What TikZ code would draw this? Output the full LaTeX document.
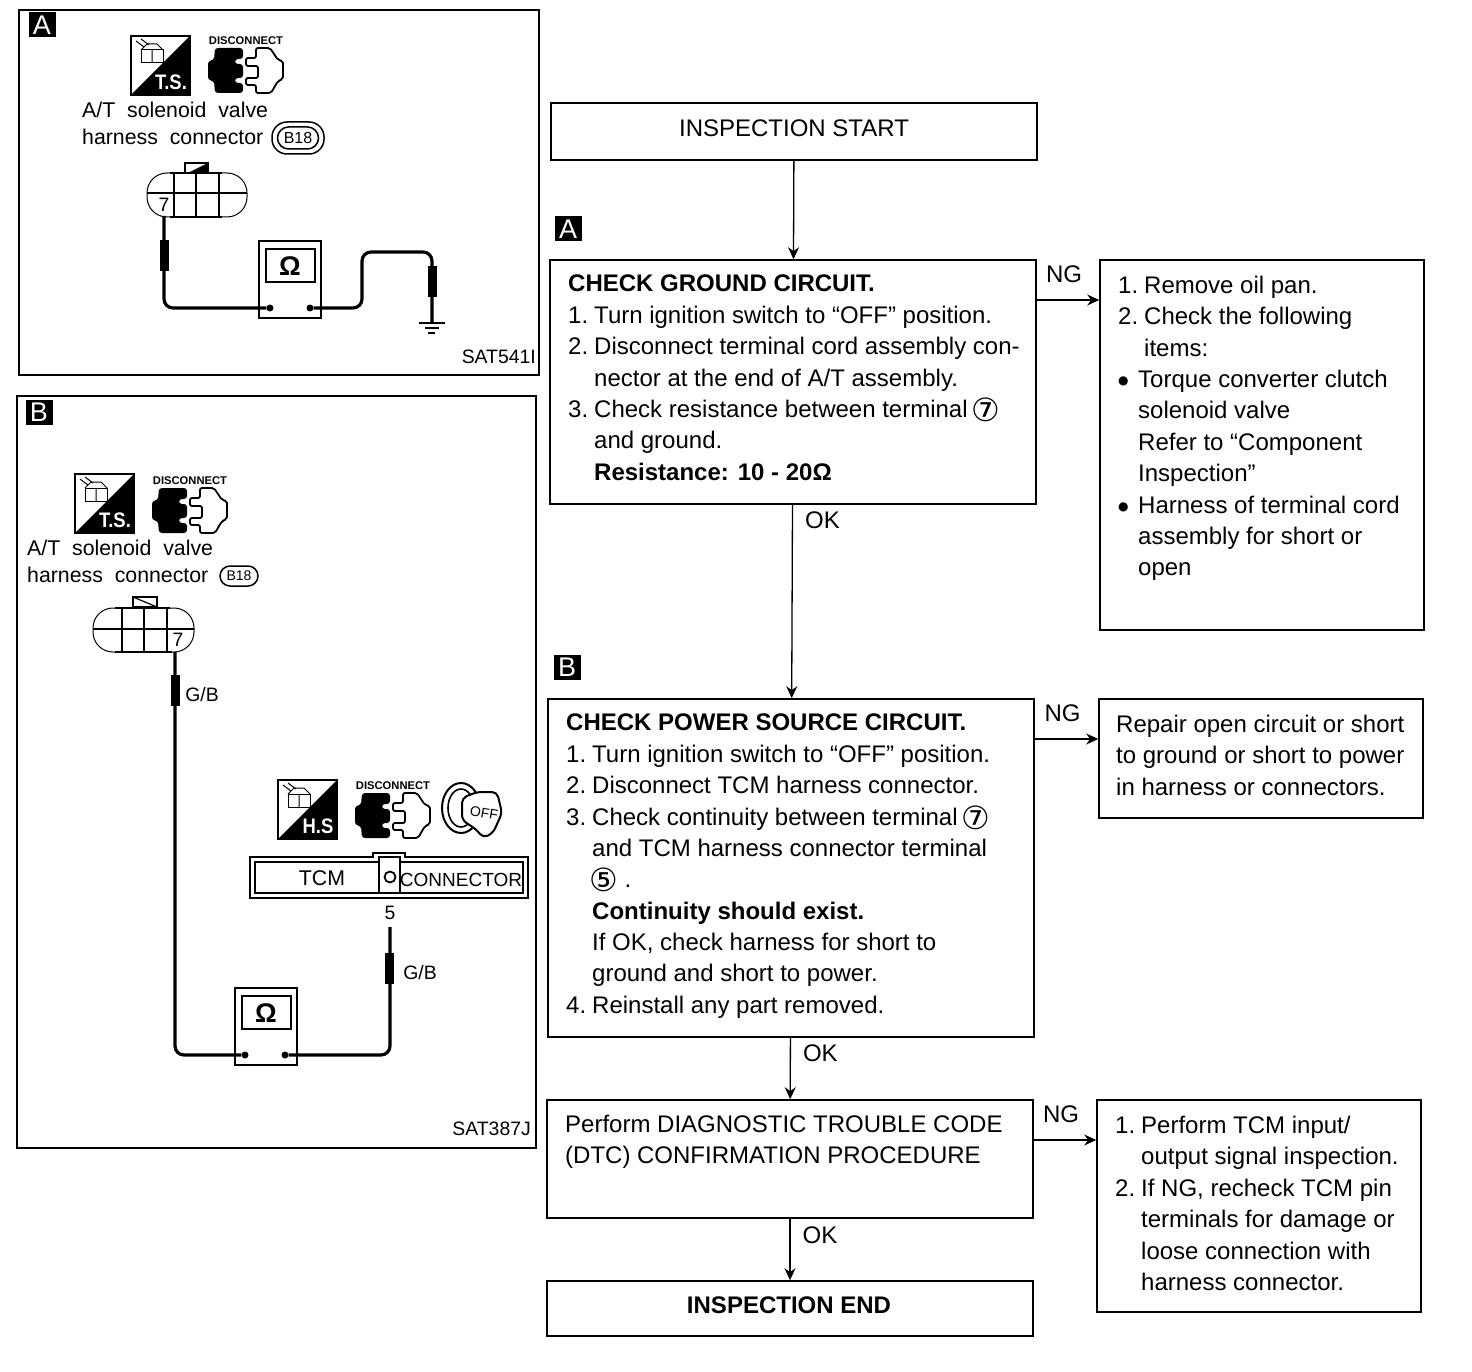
\documentclass[tikz,border=0pt]{standalone}
\usepackage{fontspec}
\setmainfont{Liberation Sans}
\newfontfamily\symfont{DejaVu Sans}
\usetikzlibrary{positioning, arrows.meta, shapes.geometric}
\tikzstyle{flowbox} = [rectangle, draw = black, line width=1.6pt, inner sep=0pt]
\tikzstyle{flowtxt} = [anchor=north west, align=left, inner sep=0pt, font=\fontsize{24}{31.35}\selectfont]
\tikzstyle{flowlab} = [inner sep=0pt, font=\fontsize{24}{27}\selectfont]
\tikzstyle{arrow} = [-{Stealth[length=12pt,width=11pt]}, line width=1.3pt]
\tikzstyle{panel} = [rectangle, draw = black, line width=2pt, inner sep=0pt]
\tikzstyle{tag} = [rectangle, fill = black, text = white, inner sep=0pt, minimum width=27pt, minimum height=25pt, font=\fontsize{27}{28}\selectfont]
\tikzstyle{wire} = [line width=3.2pt, rounded corners=9pt]
\tikzstyle{probe} = [rectangle, fill = black, inner sep=0pt, minimum width=9pt, minimum height=31pt]
\tikzstyle{smalltxt} = [inner sep=0pt, font=\fontsize{21.3}{24}\selectfont]
\tikzstyle{pintxt} = [inner sep=0pt, font=\fontsize{19.4}{20}\selectfont]
\tikzstyle{terminal} = [circle, fill = black, inner sep=0pt, minimum size=7pt]
\newcommand{\itm}[1]{\makebox[26pt][l]{#1}}
\newcommand{\btm}{\makebox[20pt][l]{\raisebox{3pt}{\symfont\fontsize{12}{12}\selectfont ●}}}
\newcommand{\circnum}[1]{\kern-3pt\smash{\raisebox{-4pt}{\symfont\fontsize{32}{32}\selectfont #1}}}
\tikzset{
  % square tool icon, half black
  pics/toolicon/.style={code={
    \draw[line width=1.5pt] (0,0) rectangle (59,59);
    \fill (59,0) -- (59,59) -- (0,59) -- cycle;
    \draw[line width=1pt] (10,14) rectangle (32,27);
    \draw[line width=1pt] (21,14) -- (21,27) (10,14) -- (16,8) -- (26,8) -- (32,14);
    \draw[line width=1pt] (5,5) -- (13,11) (10,3) -- (18,9);
    \node[white, inner sep=0pt, xscale=0.88, font=\bfseries\fontsize{21}{22}\selectfont] (tooltxt) at (40,46) {#1};
  }},
  % plug and socket
  pics/discicon/.style={code={
    \node[inner sep=0pt, font=\bfseries\fontsize{11.2}{12}\selectfont] (disctxt) at (38,-7) {DISCONNECT};
    \fill[rounded corners=3pt] (7,0) -- (35,0) -- (35,11) -- (27,11) -- (27,16) -- (35,16) -- (35,30) -- (27,30) -- (27,35) -- (35,35) -- (35,45) -- (7,45) -- (6,33) -- (0,32) -- (0,13) -- (6,12) -- cycle;
    \draw[line width=1.8pt, rounded corners=2pt] (48,0) -- (62,0) -- (70,12) -- (75,13) -- (75,31) -- (70,33) -- (63,45) -- (48,45) -- (48,37) -- (38,37) -- (38,30) -- (50,30) -- (50,18) -- (38,18) -- (38,10) -- (48,10) -- cycle;
  }},
  % ohm meter
  pics/meter/.style={code={
    \draw[line width=2pt] (0,0) rectangle (62,77);
    \draw[line width=2.4pt] (7,8) rectangle (56,41);
    \node[inner sep=0pt, font=\bfseries\fontsize{27}{28}\selectfont] (ohm) at (31,25) {Ω};
  }}
}
\begin{document}
\begin{tikzpicture}[x=1pt, y=-1pt]
  \useasboundingbox[fill=white] (0,0) rectangle (1472,1372);

  % left panels
  \node[panel, minimum width=520pt, minimum height=365pt] (panA) at (279,192.5) {};
  \node[panel, minimum width=519pt, minimum height=752pt] (panB) at (276.5,772) {};
  \node[tag] (tagpA) at (42,25) {A};
  \node[tag] (tagpB) at (39,412) {B};

  % panel A
  \pic at (131,36) {toolicon=T.S.};
  \pic at (208,48) {discicon};
  \node[smalltxt, anchor=west] (solA) at (82,110) {A/T\ \ solenoid\ \ valve};
  \node[smalltxt, anchor=west] (harA) at (82,137) {harness\ \ connector};
  \node[draw, line width=1.5pt, rounded corners=15pt, minimum width=52pt, minimum height=32pt, inner sep=0pt] (ovalA) at (298,138) {};
  \node[draw, line width=1.5pt, rounded corners=11pt, minimum width=41pt, minimum height=22pt, inner sep=0pt, font=\fontsize{16}{18}\selectfont] (bA) at (298,138) {B18};
  \draw[line width=1pt, rounded corners=20pt] (147,173) rectangle (247,217);
  \draw[line width=1.5pt] (147,193) -- (247,193) (174,173) -- (174,217) (196,173) -- (196,217) (219,173) -- (219,217);
  \draw[line width=1.5pt] (170,173) -- (222,173) (170,217) -- (222,217);
  \draw[line width=1.2pt, fill=white] (185,163) rectangle (208,173);
  \fill (208,163) -- (208,173) -- (188,173) -- cycle;
  \node[pintxt] (pinA) at (164,205) {7};
  \pic at (259,241) {meter};
  \node[terminal] (tmAl) at (270,308) {};
  \node[terminal] (tmAr) at (310,308) {};
  \coordinate (wrA) at (164,216);
  \coordinate (gndA) at (432,322);
  \draw[wire] (wrA) -- (164,308) -- (tmAl);
  \draw[wire] (tmAr) -- (362,308) -- (362,252) -- (432,252) -- (gndA);
  \node[probe] (prAl) at (164,256) {};
  \node[probe] (prAr) at (432,282) {};
  \draw[line width=2.4pt] (419,323) -- (445,323);
  \draw[line width=1.6pt] (425,328) -- (439,328);
  \draw[line width=1.6pt] (428,333) -- (435,333);
  \node[pintxt, anchor=east] (codeA) at (536,357) {SAT541I};

  % panel B
  \pic at (75,474) {toolicon=T.S.};
  \pic at (152,488) {discicon};
  \node[smalltxt, anchor=west] (solB) at (27,548) {A/T\ \ solenoid\ \ valve};
  \node[smalltxt, anchor=west] (harB) at (27,575) {harness\ \ connector};
  \node[draw, line width=1.5pt, rounded corners=10pt, minimum width=38pt, minimum height=20pt, inner sep=0pt, font=\fontsize{14}{16}\selectfont] (bB) at (239,576) {B18};
  \draw[line width=1pt, rounded corners=20pt] (93,608) rectangle (194,652);
  \draw[line width=1.5pt] (93,629) -- (194,629) (122,608) -- (122,652) (144,608) -- (144,652) (167,608) -- (167,652);
  \draw[line width=1.5pt] (115,608) -- (170,608) (115,652) -- (172,652);
  \draw[line width=1.2pt, fill=white] (133,597) rectangle (157,607);
  \draw[line width=1.2pt] (133,597) -- (157,607);
  \node[pintxt] (pinB) at (178,640) {7};
  \pic at (235,988) {meter};
  \node[terminal] (tmBl) at (245,1055) {};
  \node[terminal] (tmBr) at (285,1055) {};
  \coordinate (wrB) at (175,652);
  \coordinate (wrC) at (390,927);
  \node[pintxt] (fiveB) at (390,913) {5};
  \draw[wire] (wrB) -- (175,1055) -- (tmBl);
  \draw[wire] (tmBr) -- (390,1055) -- (wrC);
  \node[probe] (prBl) at (175,690) {};
  \node[probe] (prBr) at (389,968) {};
  \node[pintxt] (gbBl) at (202,695) {G/B};
  \node[pintxt] (gbBr) at (420,973) {G/B};
  \pic at (278,780) {toolicon=H.S};
  \pic at (355,793) {discicon};
  % ignition key
  \node[draw, ellipse, line width=2pt, minimum width=38pt, minimum height=50pt, inner sep=0pt] (keyring) at (461,808) {};
  \node[draw, ellipse, line width=1.6pt, minimum width=26pt, minimum height=38pt, inner sep=0pt] (keyin) at (461,808) {};
  \draw[line width=2pt, rounded corners=5pt, fill=white] (462,798) -- (477,792) -- (497,792) -- (502,813) -- (493,833) -- (483,838) -- (477,830) -- (462,820) -- cycle;
  \node[inner sep=0pt, rotate=-10, font=\fontsize{14}{16}\selectfont] (offtxt) at (484,813) {OFF};
  % TCM connector
  \draw[line width=2.4pt] (250,857) -- (373,857) -- (373,853) -- (405,853) -- (405,857) -- (528,857) -- (528,898) -- (250,898) -- cycle;
  \draw[line width=2pt] (255,862) rectangle (523,893);
  \draw[line width=2pt, fill=white] (379,857) rectangle (400,893);
  \node[circle, draw, line width=1.8pt, minimum size=11pt, inner sep=0pt] (pinTCM) at (390,877) {};
  \node[smalltxt] (tcmtxt) at (322,878) {TCM};
  \node[inner sep=0pt, font=\fontsize{19}{24}\selectfont] (contxt) at (461,880) {CONNECTOR};
  \node[pintxt, anchor=east] (codeB) at (531,1129) {SAT387J};

  % flow boxes
  \node[flowbox, minimum width=486pt, minimum height=57pt] (start) at (794,131.5) {};
  \node[flowbox, minimum width=486pt, minimum height=244pt] (grnd) at (793,382) {};
  \node[flowbox, minimum width=324pt, minimum height=370pt] (ngone) at (1262,445) {};
  \node[flowbox, minimum width=486pt, minimum height=338pt] (power) at (791,868) {};
  \node[flowbox, minimum width=324pt, minimum height=119pt] (ngtwo) at (1261,758.5) {};
  \node[flowbox, minimum width=486pt, minimum height=118pt] (dtc) at (790,1159) {};
  \node[flowbox, minimum width=324pt, minimum height=212pt] (ngthree) at (1259,1206) {};
  \node[flowbox, minimum width=486pt, minimum height=55pt] (endb) at (790,1308.5) {};
  \node[tag] (tagfA) at (568,229) {A};
  \node[tag] (tagfB) at (567,667) {B};

  \node[flowlab] (starttxt) at (794,128) {INSPECTION START};
  \node[flowlab] (endtxt) at (789,1305) {\bfseries INSPECTION END};
  \node[flowtxt] (grndtxt) at (568,275) {\textbf{CHECK GROUND CIRCUIT.}\\
    \itm{1.}Turn ignition switch to “OFF” position.\\
    \itm{2.}Disconnect terminal cord assembly con-\\
    \itm{}nector at the end of A/T assembly.\\
    \itm{3.}Check resistance between terminal \circnum{⑦}\\
    \itm{}and ground.\\
    \itm{}\textbf{Resistance: 10 - 20Ω}};
  \node[flowtxt] (ngonetxt) at (1118,276) {\itm{1.}Remove oil pan.\\
    \itm{2.}Check the following\\
    \itm{}items:\\
    \btm Torque converter clutch\\
    \makebox[20pt]{}solenoid valve\\
    \makebox[20pt]{}Refer to “Component\\
    \makebox[20pt]{}Inspection”\\
    \btm Harness of terminal cord\\
    \makebox[20pt]{}assembly for short or\\
    \makebox[20pt]{}open};
  \node[flowtxt] (powertxt) at (566,714) {\textbf{CHECK POWER SOURCE CIRCUIT.}\\
    \itm{1.}Turn ignition switch to “OFF” position.\\
    \itm{2.}Disconnect TCM harness connector.\\
    \itm{3.}Check continuity between terminal \circnum{⑦}\\
    \itm{}and TCM harness connector terminal\\
    \itm{}\circnum{⑤} .\\
    \itm{}\textbf{Continuity should exist.}\\
    \itm{}If OK, check harness for short to\\
    \itm{}ground and short to power.\\
    \itm{4.}Reinstall any part removed.};
  \node[flowtxt] (ngtwotxt) at (1116,715) {Repair open circuit or short\\
    to ground or short to power\\
    in harness or connectors.};
  \node[flowtxt] (dtctxt) at (565,1115) {Perform DIAGNOSTIC TROUBLE CODE\\
    (DTC) CONFIRMATION PROCEDURE};
  \node[flowtxt] (ngthreetxt) at (1115,1116) {\itm{1.}Perform TCM input/\\
    \itm{}output signal inspection.\\
    \itm{2.}If NG, recheck TCM pin\\
    \itm{}terminals for damage or\\
    \itm{}loose connection with\\
    \itm{}harness connector.};

  % arrows
  \draw[arrow] (start) -- (grnd);
  \draw[arrow] (grnd) -- node[flowlab, right=12pt, yshift=1.5pt, pos=0.09]{OK} (power);
  \draw[arrow] (power) -- node[flowlab, right=12pt, pos=0.25]{OK} (dtc);
  \draw[arrow] (dtc) -- node[flowlab, right=12pt, pos=0.27]{OK} (endb);
  \draw[arrow] ([yshift=82pt]grnd.east) -- node[flowlab, above=17pt, xshift=-4pt]{NG} ([yshift=82pt]grnd.east -| ngone.west);
  \draw[arrow] ([yshift=129pt]power.east) -- node[flowlab, above=17pt, xshift=-4pt]{NG} ([yshift=129pt]power.east -| ngtwo.west);
  \draw[arrow] ([yshift=19pt]dtc.east) -- node[flowlab, above=17pt, xshift=-4pt]{NG} ([yshift=19pt]dtc.east -| ngthree.west);
\end{tikzpicture}
\end{document}
